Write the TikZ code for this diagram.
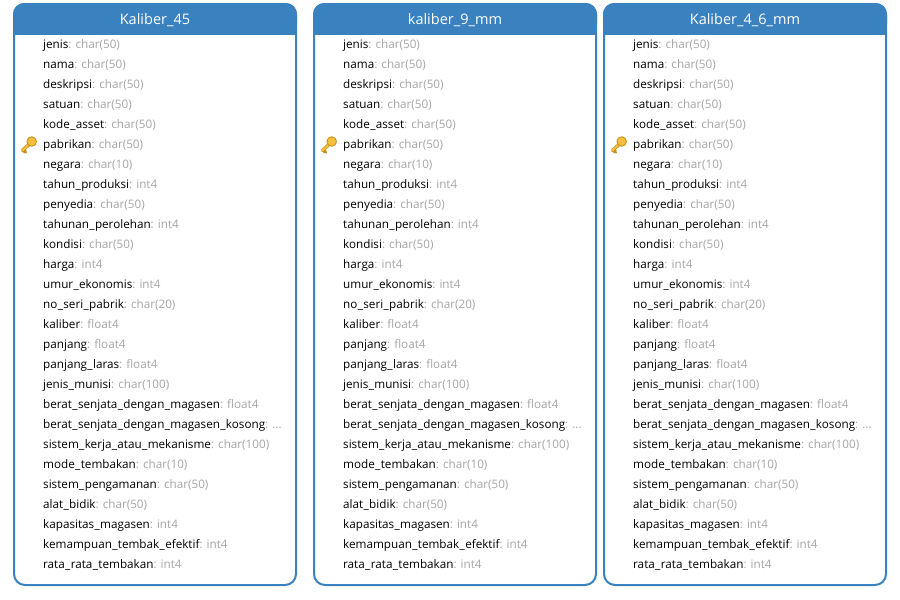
\documentclass[tikz,border=0pt]{standalone}
\usepackage{fontspec}
\setmainfont{Open Sans}
\definecolor{headblue}{HTML}{3A81BF}
\definecolor{typegray}{HTML}{A6A6A6}
\definecolor{keygold}{HTML}{F5BE3C}
\definecolor{keyedge}{HTML}{C48F1A}
\tikzset{
 x=1pt, y=-1pt,
 tablebody/.style={draw=headblue, line width=2pt, fill=white, rounded corners=11pt},
 tablehead/.style={fill=headblue},
 tabletitle/.style={text=white, font=\fontsize{14.5}{17}\selectfont},
 fieldrow/.style={anchor=base west, inner sep=0pt, font=\fontsize{11.7}{14}\selectfont},
 keyshaft/.style={keyedge, line width=3.4pt, line cap=round},
 keycore/.style={keygold, line width=2pt, line cap=round},
 keybow/.style={draw=keyedge, fill=keygold, line width=0.8pt},
}
\newcommand{\us}{\kern0.35pt\_\kern0.35pt}
\newcommand{\moretype}{.{}.{}.}
\newcommand{\fieldlist}{jenis/char(50), nama/char(50), deskripsi/char(50), satuan/char(50),
 kode\us asset/char(50), pabrikan/char(50), negara/char(10), tahun\us produksi/int4,
 penyedia/char(50), tahunan\us perolehan/int4, kondisi/char(50), harga/int4,
 umur\us ekonomis/int4, no\us seri\us pabrik/char(20), kaliber/float4, panjang/float4,
 panjang\us laras/float4, jenis\us munisi/char(100), berat\us senjata\us dengan\us magasen/float4,
 berat\us senjata\us dengan\us magasen\us kosong/\moretype, sistem\us kerja\us atau\us mekanisme/char(100),
 mode\us tembakan/char(10), sistem\us pengamanan/char(50), alat\us bidik/char(50),
 kapasitas\us magasen/int4, kemampuan\us tembak\us efektif/int4, rata\us rata\us tembakan/int4}
\newcommand{\drawtable}[3]{%
 \draw[tablebody] (#2,4) rectangle (#2+282,585);
 \fill[tablehead, rounded corners=11pt] (#2-1,3) rectangle (#2+283,34.5);
 \fill[tablehead] (#2-1,20) rectangle (#2+283,34.5);
 \node[tabletitle] (#1-title) at (#2+141,20.2) {#3};
 \foreach \fname/\ftype [count=\i from 0] in \fieldlist {
  \node[fieldrow] (#1-\i) at (#2+29,48+20*\i) {\fname\textcolor{typegray}{: \ftype}};
 }
 \draw[keyshaft] (#2+8.5,150.5) -- (#2+15,144.5);
 \draw[keyshaft] (#2+9.5,150.5) -- (#2+11.5,152);
 \draw[keycore] (#2+8.5,150.5) -- (#2+15,144.5);
 \draw[keybow] (#2+17.7,141.5) circle (4.8);
}
\begin{document}
\begin{tikzpicture}
 \useasboundingbox (0,0) rectangle (900,600);
 \drawtable{kal45}{14}{Kaliber\_45}
 \drawtable{kal9}{314}{kaliber\_9\_mm}
 \drawtable{kal46}{604}{Kaliber\_4\_6\_mm}
\end{tikzpicture}
\end{document}
